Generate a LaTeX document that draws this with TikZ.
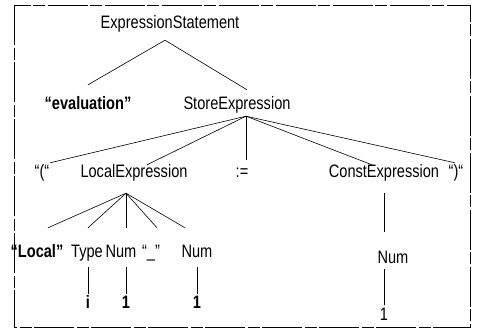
\documentclass[tikz,border=0pt]{standalone}
\usepackage{fontspec}
\setmainfont{Liberation Sans}[FakeStretch=0.81]
\usepackage{tikz}

\tikzset{
  sym/.style={font=\fontsize{18}{21}\selectfont, inner sep=2pt,
              text height=12.5pt, text depth=3.5pt},
  term/.style={sym, font=\fontsize{18}{21}\selectfont\bfseries},
  br/.style={line width=0.6pt}
}

\begin{document}
\begin{tikzpicture}[x=1pt,y=-1pt]
   \useasboundingbox (0,0) rectangle (477,332);
   \draw[line width=0.6pt,dash pattern=on 40pt off 3pt on 12pt off 2pt]
      (14,5) rectangle (470,327);

   \node[sym] (es) at (170,23.5) {ExpressionStatement};
   \node[term] (eval) at (88,105) {“evaluation”};
   \node[sym] (store) at (237,105) {StoreExpression};

   \node[sym] (lpar) at (42,173) {“(“};
   \node[sym] (local) at (134,173) {LocalExpression};
   \node[sym] (assign) at (242,173) {:=};
   \node[sym] (const) at (384,173) {ConstExpression};
   \node[sym] (rpar) at (456,173) {“)“};

   \node[term] (kwlocal) at (37,253) {“Local”};
   \node[sym] (type) at (87,253) {Type};
   \node[sym] (num1) at (121,253) {Num};
   \node[sym] (under) at (151,253) {“\_”};
   \node[sym] (num2) at (197,253) {Num};
   \node[sym] (cnum) at (393,258.5) {Num};

   \node[term] (leafi) at (88,304) {i};
   \node[term] (leaf1) at (126,304) {1};
   \node[term] (leaf2) at (197,304) {1};
   \node[sym] (leafc) at (384,315.5) {1};

   \draw[br] ([xshift=-5pt,yshift=-6.5pt]es.south) -- ([yshift=10pt]eval.north);
   \draw[br] ([xshift=-5pt,yshift=-6.5pt]es.south) -- ([xshift=10pt,yshift=5pt]store.north);

   \foreach \n/\dx/\dy in {lpar/8/0, local/13/-2, assign/4/3, const/-12/-2, rpar/-1/0}
      \draw[br] ([xshift=9pt,yshift=-1pt]store.south) -- ([xshift=\dx pt,yshift=\dy pt]\n.north);

   \foreach \n/\dx in {kwlocal/11, type/1, num1/5, under/6, num2/-12}
      \draw[br] ([xshift=-8pt,yshift=-10pt]local.south) -- ([xshift=\dx pt,yshift=15pt]\n.north);

   \foreach \a/\b in {type/leafi, num1/leaf1, num2/leaf2}
      \draw[br, shorten >=4pt] (\b.north) -- (\b.north |- \a.south);

   \draw[br, shorten <=10pt, shorten >=16.5pt] (const.south) -- (const.south |- cnum.north);
   \draw[br] (leafc.north) -- (leafc.north |- cnum.south);
\end{tikzpicture}
\end{document}
